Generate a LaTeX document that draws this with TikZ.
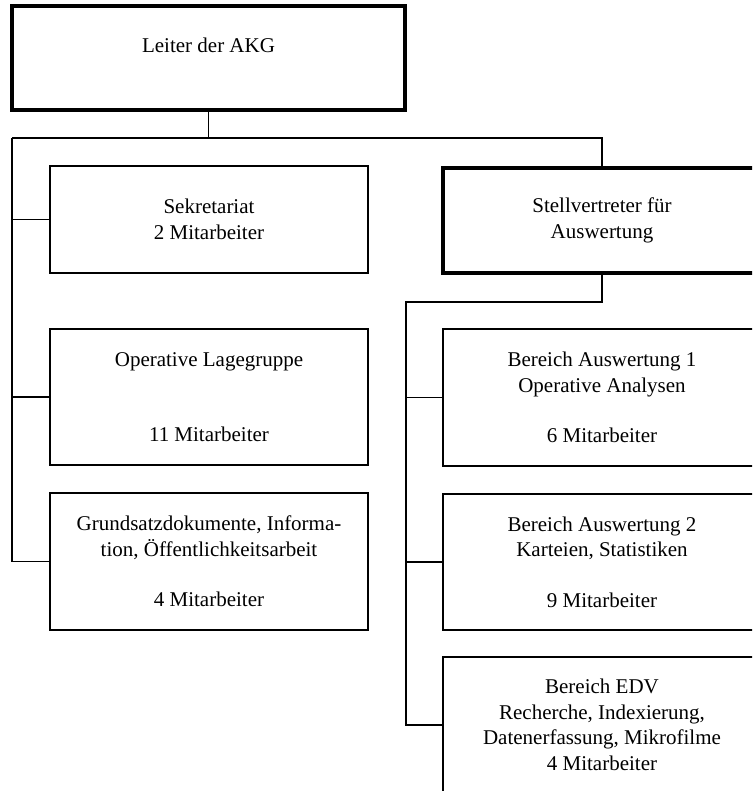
\documentclass[tikz,border=0pt]{standalone}
\usepackage{fontspec}
\setmainfont{Liberation Serif}
\usepackage{tikz}
\usetikzlibrary{positioning}
\usetikzlibrary{calc}

\tikzset{
  unit/.style={draw,line width=1.3pt,minimum width=318pt,minimum height=136pt,
    inner sep=0pt,align=center,font=\fontsize{21}{25.5}\selectfont},
  chief/.style={unit,line width=4.5pt},
  bus/.style={draw=black,line width=1.3pt}
}

\begin{document}
\begin{tikzpicture}[x=1pt,y=-1pt]
	\useasboundingbox (0,0) rectangle (752,791);
	\clip (0,0) rectangle (752,791);
	% leitung
	\node[chief,minimum width=393pt,minimum height=104pt,text depth=26pt] (leiter) at (208.5,58) {Leiter der AKG};
	\node[chief,minimum height=105pt] (stell) at (602,220.5) {Stellvertreter f\"ur\\Auswertung};
	% linke spalte
	\node[unit,minimum height=107pt] (sekr) at (209,219.5) {Sekretariat\\2 Mitarbeiter};
	\node[unit] (lage) at (209,397) {Operative Lagegruppe\\[50pt]11 Mitarbeiter};
	\node[unit,minimum height=137pt] (grund) at (209,561.5) {Grundsatzdokumente, Informa-\\tion, \"Offentlichkeitsarbeit\\[25pt]4 Mitarbeiter};
	% rechte spalte
	\node[unit,minimum height=137pt] (aus1) at (602,397.5) {Bereich Auswertung 1\\Operative Analysen\\[25pt]6 Mitarbeiter};
	\node[unit] (aus2) at (602,562) {Bereich Auswertung 2\\Karteien, Statistiken\\[25pt]9 Mitarbeiter};
	\node[unit] (edv) at (602,725) {Bereich EDV\\Recherche, Indexierung,\\Datenerfassung, Mikrofilme\\4 Mitarbeiter};
	% verbindungen
	\coordinate (lbus) at (12,138);
	\coordinate (rbus) at (406,302);
	\begin{scope}[every path/.style={bus}]
	  \path (leiter.south) -- (leiter.south |- lbus);
	  \path (lbus) -| (stell.north);
	  \path (lbus) |- (grund.west);
	  \path (lbus |- sekr.west) -- (sekr.west);
	  \path (lbus |- lage.west) -- (lage.west);
	  \path (stell.south) -- (stell.south |- rbus) -- (rbus) |- (edv.west);
	  \path (rbus |- aus1.west) -- (aus1.west);
	  \path (rbus |- aus2.west) -- (aus2.west);
	\end{scope}
\end{tikzpicture}
\end{document}
